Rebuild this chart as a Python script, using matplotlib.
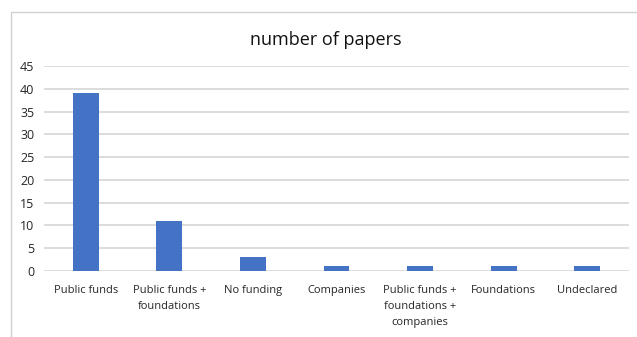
import matplotlib
matplotlib.use("Agg")
import matplotlib.pyplot as plt
from matplotlib.patches import Rectangle

categories = ["Public funds", "Public funds +\nfoundations", "No funding", "Companies",
              "Public funds +\nfoundations +\ncompanies", "Foundations", "Undeclared"]
values = [39, 11, 3, 1, 1, 1, 1]
yticks = [0, 5, 10, 15, 20, 25, 30, 35, 40, 45]

plt.rcParams['font.family'] = ['Open Sans', 'DejaVu Sans']

fig = plt.figure(figsize=(6.37, 3.37), dpi=100)
ax = fig.add_axes([44/637, 1-271/337, (629-44)/637, (271-66)/337])

x = range(len(categories))
ax.bar(x, values, width=0.31, color="#4472C4", zorder=3)
ax.set_xlim(-0.5, len(categories)-0.5)
ax.set_ylim(0, 45)
ax.set_yticks(yticks)
ax.set_xticks(list(x))
ax.set_xticklabels(categories, fontsize=8, color="#262626", linespacing=1.65)
ax.tick_params(axis='y', labelsize=9, labelcolor="#262626", length=0, pad=7)
ax.tick_params(axis='x', length=0, pad=10)
ax.grid(axis='y', color="#D9D9D9", linewidth=1.3, zorder=0)
for s in ax.spines.values():
    s.set_visible(False)

fig.text(326/637, 1-40/337, "number of papers", ha='center', va='center',
         fontsize=13, color="#111111")

border = Rectangle((11/637, -0.1), 1.0, 1-12/337+0.1, transform=fig.transFigure,
                   fill=False, edgecolor="#D0D0D0", linewidth=1.0)
fig.patches.append(border)

fig.savefig("out.png", dpi=100)
